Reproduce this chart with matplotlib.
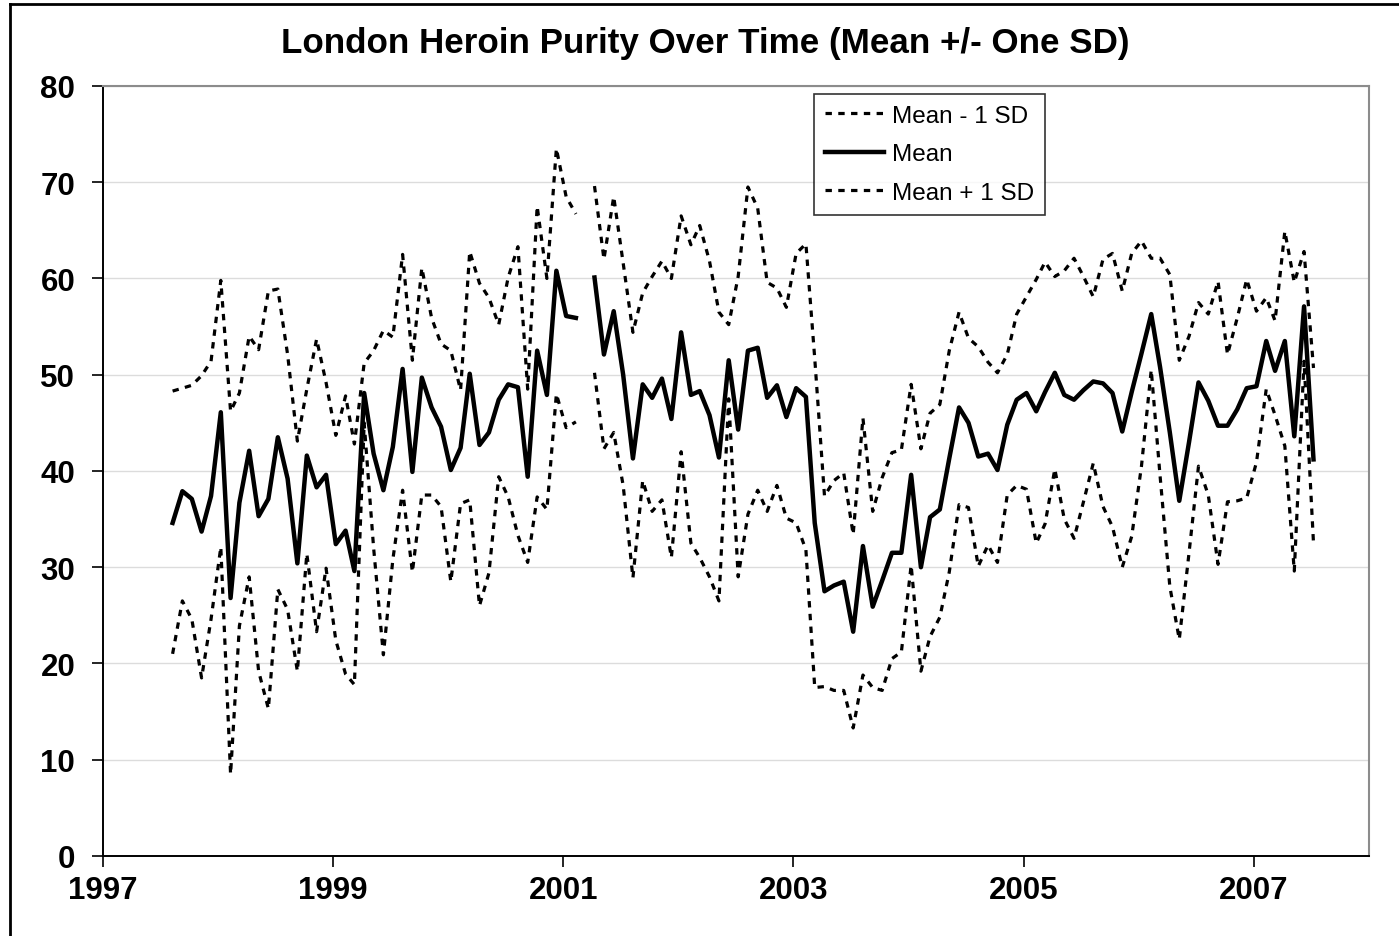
import numpy as np
import pandas as pd
import matplotlib
matplotlib.use('Agg')
import matplotlib.pyplot as plt
import matplotlib.dates as mdates
from matplotlib.lines import Line2D

plt.rcParams['font.family'] = ['Liberation Sans', 'DejaVu Sans']

# =============================================================================
# Data (monthly, Aug 1997 - Jul 2007, one month missing)
# =============================================================================
months = pd.date_range('1997-08-01', periods=120, freq='MS') + pd.Timedelta(days=9)

mean = [34.6, 37.9, 37.1, 33.7, 37.4, 46.1, 26.8, 36.7, 42.1, 35.3,
        37.1, 43.5, 39.2, 30.4, 41.6, 38.3, 39.6, 32.4, 33.8, 29.6,
        48.1, 41.8, 38.0, 42.5, 50.6, 39.9, 49.7, 46.6, 44.6, 40.1,
        42.4, 50.1, 42.7, 44.0, 47.4, 49.0, 48.7, 39.4, 52.5, 47.9,
        60.8, 56.1, 55.9, np.nan, 60.1, 52.1, 56.6, 50.0, 41.3, 49.0,
        47.6, 49.6, 45.4, 54.4, 47.9, 48.3, 45.8, 41.4, 51.5, 44.3,
        52.5, 52.8, 47.6, 48.9, 45.6, 48.6, 47.7, 34.6, 27.5, 28.1,
        28.5, 23.3, 32.2, 25.9, 28.6, 31.5, 31.5, 39.6, 30.0, 35.2,
        36.0, 41.3, 46.6, 45.0, 41.5, 41.8, 40.1, 44.8, 47.4, 48.1,
        46.2, 48.2, 50.2, 47.9, 47.4, 48.4, 49.3, 49.1, 48.1, 44.1,
        48.2, 52.2, 56.3, 50.8, 44.0, 36.9, 43.0, 49.2, 47.3, 44.7,
        44.7, 46.4, 48.6, 48.8, 53.5, 50.4, 53.5, 43.6, 57.1, 41.2]

upper = [48.3, 48.6, 48.9, 49.9, 51.4, 59.8, 46.2, 48.1, 54.0, 52.6,
         58.7, 58.9, 52.1, 43.1, 48.5, 53.7, 49.2, 43.7, 47.8, 42.8,
         51.2, 52.5, 54.6, 53.9, 62.5, 51.5, 61.1, 55.9, 53.2, 52.5,
         48.4, 62.8, 59.5, 58.0, 55.2, 60.1, 63.3, 48.5, 67.5, 60.0,
         73.5, 68.5, 66.7, np.nan, 69.6, 62.0, 68.5, 61.6, 54.4, 58.5,
         60.2, 61.8, 60.0, 66.5, 63.5, 65.5, 61.8, 56.5, 55.2, 60.2,
         69.5, 67.3, 59.6, 59.0, 57.0, 62.6, 63.6, 51.7, 37.4, 39.0,
         39.8, 33.4, 45.5, 35.8, 39.3, 41.9, 42.2, 49.0, 42.3, 46.0,
         46.9, 52.5, 56.5, 53.8, 52.9, 51.3, 50.2, 52.1, 56.3, 58.1,
         59.9, 61.7, 60.2, 60.8, 62.1, 60.2, 58.1, 62.0, 62.6, 58.7,
         62.6, 63.9, 62.1, 62.1, 60.4, 51.5, 54.0, 57.5, 56.3, 59.7,
         52.1, 55.9, 59.9, 56.6, 58.0, 55.6, 64.9, 59.6, 62.8, 50.7]

lower = [21.0, 26.5, 24.6, 18.5, 24.6, 32.1, 8.5, 23.9, 29.0, 19.2,
         15.3, 27.7, 25.6, 19.2, 31.4, 23.3, 29.9, 22.4, 18.9, 17.8,
         45.0, 32.0, 20.9, 30.8, 38.0, 29.5, 37.5, 37.5, 36.3, 28.5,
         36.6, 37.0, 26.0, 29.4, 39.4, 37.3, 33.3, 30.5, 37.3, 36.0,
         48.0, 44.5, 45.1, np.nan, 50.2, 42.3, 44.0, 38.5, 28.9, 39.0,
         35.8, 37.0, 31.0, 42.0, 32.5, 31.0, 29.0, 26.5, 47.5, 29.0,
         35.5, 38.0, 35.8, 38.5, 35.1, 34.6, 31.8, 17.5, 17.6, 17.2,
         17.2, 13.3, 18.8, 17.5, 17.2, 20.5, 21.2, 30.2, 19.2, 22.8,
         24.8, 29.5, 36.5, 36.2, 30.1, 32.3, 30.5, 37.5, 38.5, 38.1,
         32.5, 34.5, 40.2, 35.0, 33.0, 36.8, 40.8, 36.3, 34.2, 30.0,
         33.2, 40.5, 50.5, 39.5, 28.0, 22.5, 31.5, 40.5, 37.5, 30.3,
         36.8, 36.9, 37.2, 40.9, 48.5, 45.8, 42.6, 29.6, 51.4, 32.5]

tick_years = [1997, 1999, 2001, 2003, 2005, 2007]
y_ticks = [0, 10, 20, 30, 40, 50, 60, 70, 80]

# =============================================================================
# Plot
# =============================================================================
fig = plt.figure(figsize=(13.99, 9.37), dpi=100)
ax = fig.add_axes([0.0736, 0.0854, 0.9047, 0.8218])

ax.plot(months, lower, color='black', lw=2.3, ls=(0, (2, 2)), label='Mean - 1 SD')
ax.plot(months, mean, color='black', lw=3.2, label='Mean')
ax.plot(months, upper, color='black', lw=2.3, ls=(0, (2, 2)), label='Mean + 1 SD')

ax.set_ylim(0, 80)
ax.set_yticks(y_ticks)
ax.set_xlim(pd.Timestamp('1997-01-01'), pd.Timestamp('2008-01-01'))
ax.set_xticks([pd.Timestamp(f'{y}-01-01') for y in tick_years])
ax.xaxis.set_major_formatter(mdates.DateFormatter('%Y'))

ax.yaxis.grid(True, color='#dcdcdc', lw=1)
ax.set_axisbelow(True)

# plot area: black axes left/bottom, grey frame top/right
for s in ['top', 'right']:
    ax.spines[s].set_color('#8c8c8c')
    ax.spines[s].set_linewidth(1.5)
for s in ['left', 'bottom']:
    ax.spines[s].set_linewidth(1.4)

ax.tick_params(axis='both', direction='out', length=8, width=1.2,
               labelsize=22.5)
ax.tick_params(axis='y', pad=12)
ax.tick_params(axis='x', pad=6)
for lbl in ax.get_xticklabels() + ax.get_yticklabels():
    lbl.set_fontweight('bold')

fig.text(0.504, 1 - 44 / 937, 'London Heroin Purity Over Time (Mean +/- One SD)',
         fontsize=25.2, fontweight='bold', ha='center', va='center')

leg = ax.legend(loc='upper left', bbox_to_anchor=(0.562, 0.99),
                fontsize=17.5, frameon=True, fancybox=False,
                handlelength=2.4, handletextpad=0.35, labelspacing=0.68,
                borderpad=0.45, borderaxespad=0)
leg.get_frame().set_edgecolor('black')
leg.get_frame().set_linewidth(1.2)

# chart-area border (left and top edges visible; the rest is cropped)
fig.add_artist(Line2D([10 / 1399, 10 / 1399], [0, 1 - 5 / 937],
                      transform=fig.transFigure, color='black', lw=2))
fig.add_artist(Line2D([10 / 1399, 1], [1 - 5 / 937, 1 - 5 / 937],
                      transform=fig.transFigure, color='black', lw=2))

fig.savefig('out.png', dpi=100)
